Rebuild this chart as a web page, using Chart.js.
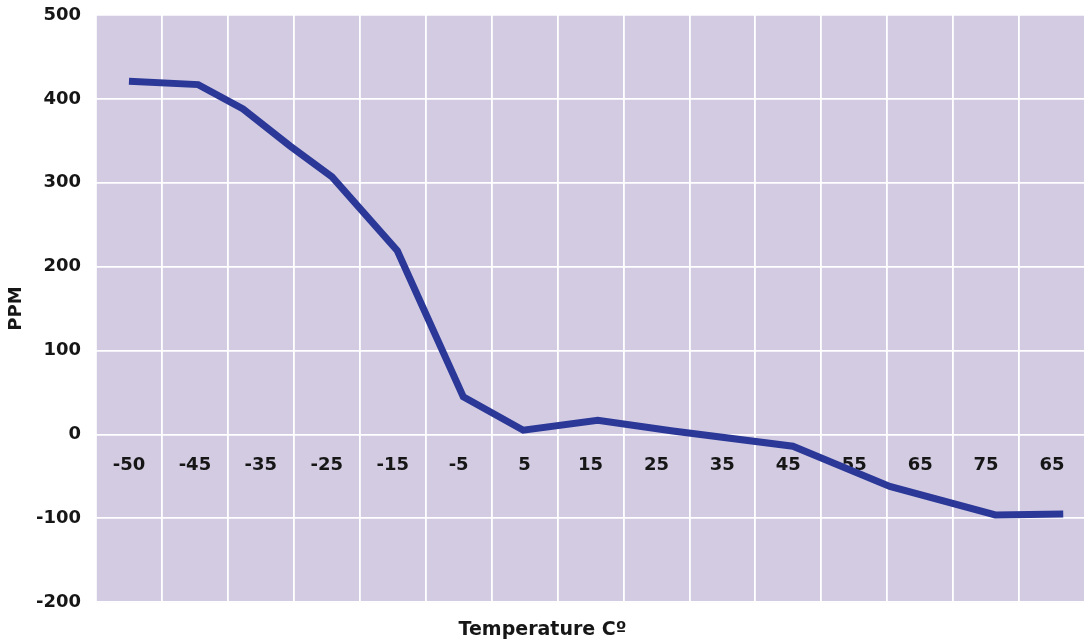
<!DOCTYPE html>
<html>
<head>
<meta charset="utf-8">
<script src="https://cdn.jsdelivr.net/npm/chart.js@4/dist/chart.umd.min.js"></script>
<style>
  html, body { margin: 0; padding: 0; background: #fff; }
  #wrap { width: 1085px; height: 643px; }
</style>
</head>
<body>
<div id="wrap"><canvas id="ppmChart"></canvas></div>
<script>
var tempLabels = ['-50', '-45', '-35', '-25', '-15', '-5', '5', '15', '25', '35', '45', '55', '65', '75', '65'];
// where each reading sits along the temperature axis, in label slots (0 = first label)
var readingPos = [0, 1.05, 1.73, 2.44, 3.08, 4.07, 5.07, 5.98, 7.11, 8.25, 10.07, 11.54, 13.14, 14.17];
var ppmValues = [421, 417, 388, 344, 307, 219, 45, 5, 17, 4, -14, -62, -96, -95];
var yMin = -200, yMax = 500, yStep = 100;

var textColor = '#161616';
var tickFont = { family: 'DejaVu Sans', size: 18, weight: 'bold' };

var plotBg = {
    id: 'plotBg',
    beforeDraw: function (chart) {
        var a = chart.chartArea;
        var ctx = chart.ctx;
        ctx.save();
        ctx.fillStyle = '#d2cbe2';
        ctx.fillRect(a.left, a.top, a.right - a.left, a.bottom - a.top);
        ctx.restore();
    }
};

var points = readingPos.map(function (p, i) {
    return { x: p, y: ppmValues[i] };
});

new Chart(document.getElementById('ppmChart'), {
    type: 'line',
    data: {
        datasets: [{
            label: 'PPM',
            data: points,
            xAxisID: 'x2',
            borderColor: '#2b3897',
            backgroundColor: '#2b3897',
            borderWidth: 7,
            pointRadius: 0,
            tension: 0,
            fill: false
        }]
    },
    options: {
        responsive: true,
        maintainAspectRatio: false,
        animation: false,
        layout: { padding: { top: 15, right: 0, left: 0, bottom: 0 } },
        scales: {
            x: {
                type: 'category',
                labels: tempLabels,
                position: { y: 0 },
                offset: true,
                grid: { offset: true, color: '#ffffff', lineWidth: 1.8, drawTicks: false },
                border: { display: false },
                ticks: { padding: 20, color: textColor, font: tickFont, maxRotation: 0, autoSkip: false }
            },
            x2: {
                type: 'linear',
                display: false,
                min: -0.5,
                max: tempLabels.length - 0.5
            },
            y: {
                min: yMin,
                max: yMax,
                afterFit: function (scale) {
                    // fixed axis width, and don't let the tick padding push the plot down
                    scale.width = 96;
                    scale.paddingTop = 0;
                },
                ticks: { stepSize: yStep, padding: 15, color: textColor, font: tickFont },
                grid: { color: '#ffffff', lineWidth: 1.8, drawTicks: false },
                border: { display: false },
                title: {
                    display: true,
                    text: 'PPM',
                    color: textColor,
                    font: { family: 'DejaVu Sans', size: 18, weight: 'bold' },
                    padding: { top: 6, bottom: 0 }
                }
            }
        },
        plugins: {
            legend: { display: false },
            tooltip: { enabled: false },
            title: {
                display: true,
                text: 'Temperature Cº',
                position: 'bottom',
                color: textColor,
                font: { family: 'DejaVu Sans', size: 19, weight: 'bold' },
                padding: { top: 16, bottom: 2 }
            }
        }
    },
    plugins: [plotBg]
});
</script>
</body>
</html>
